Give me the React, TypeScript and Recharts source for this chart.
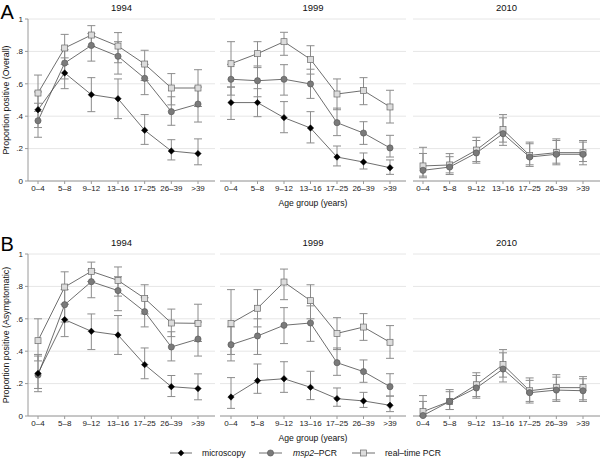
import React from 'react';
import { LineChart, Line, XAxis, YAxis, CartesianGrid, ErrorBar } from 'recharts';

const ageGroups = ['0–4', '5–8', '9–12', '13–16', '17–25', '26–39', '>39'];
const yTicks = [0, 0.2, 0.4, 0.6, 0.8, 1];

// ---- A (Overall) 1994
const a94Micro = [0.44, 0.667, 0.533, 0.508, 0.313, 0.185, 0.169];
const a94MicroLo = [0.33, 0.57, 0.428, 0.385, 0.226, 0.13, 0.1];
const a94MicroHi = [0.55, 0.76, 0.638, 0.63, 0.41, 0.255, 0.26];
const a94Msp2 = [0.372, 0.728, 0.837, 0.77, 0.634, 0.428, 0.475];
const a94Msp2Lo = [0.27, 0.63, 0.74, 0.66, 0.533, 0.344, 0.364];
const a94Msp2Hi = [0.48, 0.81, 0.91, 0.86, 0.72, 0.52, 0.58];
const a94Rt = [0.543, 0.821, 0.901, 0.833, 0.722, 0.574, 0.574];
const a94RtLo = [0.43, 0.72, 0.83, 0.73, 0.62, 0.47, 0.46];
const a94RtHi = [0.654, 0.905, 0.959, 0.916, 0.807, 0.663, 0.687];

// ---- A (Overall) 1999
const a99Micro = [0.484, 0.484, 0.391, 0.327, 0.148, 0.117, 0.082];
const a99MicroLo = [0.38, 0.397, 0.298, 0.235, 0.093, 0.074, 0.041];
const a99MicroHi = [0.58, 0.57, 0.49, 0.428, 0.216, 0.173, 0.13];
const a99Msp2 = [0.628, 0.619, 0.628, 0.599, 0.36, 0.296, 0.204];
const a99Msp2Lo = [0.53, 0.52, 0.53, 0.51, 0.28, 0.226, 0.148];
const a99Msp2Hi = [0.72, 0.71, 0.718, 0.69, 0.45, 0.366, 0.282];
const a99Rt = [0.724, 0.786, 0.86, 0.751, 0.537, 0.558, 0.457];
const a99RtLo = [0.58, 0.7, 0.776, 0.66, 0.44, 0.471, 0.358];
const a99RtHi = [0.86, 0.86, 0.918, 0.835, 0.63, 0.638, 0.56];

// ---- A (Overall) 2010
const a10Msp2 = [0.066, 0.086, 0.173, 0.292, 0.148, 0.165, 0.165];
const a10Msp2Lo = [0.02, 0.04, 0.11, 0.22, 0.09, 0.1, 0.1];
const a10Msp2Hi = [0.17, 0.15, 0.25, 0.39, 0.23, 0.25, 0.24];
const a10Rt = [0.093, 0.099, 0.191, 0.317, 0.158, 0.175, 0.175];
const a10RtLo = [0.03, 0.05, 0.12, 0.24, 0.1, 0.11, 0.12];
const a10RtHi = [0.208, 0.169, 0.27, 0.41, 0.24, 0.26, 0.25];

// ---- B (Asymptomatic) 1994
const b94Micro = [0.263, 0.595, 0.523, 0.5, 0.317, 0.181, 0.169];
const b94MicroLo = [0.17, 0.49, 0.41, 0.38, 0.23, 0.12, 0.1];
const b94MicroHi = [0.38, 0.69, 0.63, 0.62, 0.42, 0.25, 0.26];
const b94Msp2 = [0.253, 0.687, 0.829, 0.774, 0.644, 0.426, 0.475];
const b94Msp2Lo = [0.15, 0.58, 0.73, 0.65, 0.55, 0.34, 0.37];
const b94Msp2Hi = [0.37, 0.78, 0.9, 0.86, 0.73, 0.52, 0.58];
const b94Rt = [0.465, 0.796, 0.893, 0.837, 0.726, 0.574, 0.572];
const b94RtLo = [0.34, 0.69, 0.83, 0.74, 0.63, 0.49, 0.46];
const b94RtHi = [0.6, 0.89, 0.95, 0.92, 0.81, 0.66, 0.69];

// ---- B (Asymptomatic) 1999
const b99Micro = [0.117, 0.218, 0.23, 0.177, 0.107, 0.093, 0.066];
const b99MicroLo = [0.047, 0.14, 0.146, 0.101, 0.06, 0.053, 0.027];
const b99MicroHi = [0.237, 0.321, 0.335, 0.276, 0.173, 0.146, 0.123];
const b99Msp2 = [0.44, 0.494, 0.56, 0.574, 0.329, 0.274, 0.181];
const b99Msp2Lo = [0.34, 0.38, 0.447, 0.461, 0.251, 0.208, 0.123];
const b99Msp2Hi = [0.55, 0.6, 0.669, 0.68, 0.42, 0.346, 0.261];
const b99Rt = [0.572, 0.665, 0.827, 0.712, 0.51, 0.549, 0.455];
const b99RtLo = [0.38, 0.55, 0.718, 0.6, 0.41, 0.467, 0.356];
const b99RtHi = [0.78, 0.78, 0.907, 0.81, 0.607, 0.632, 0.558];

// ---- B (Asymptomatic) 2010
const b10Msp2 = [0.003, 0.09, 0.173, 0.29, 0.144, 0.16, 0.156];
const b10Msp2Lo = [0, 0.04, 0.11, 0.21, 0.08, 0.09, 0.09];
const b10Msp2Hi = [0.09, 0.15, 0.25, 0.39, 0.22, 0.24, 0.23];
const b10Rt = [0.027, 0.09, 0.193, 0.317, 0.156, 0.175, 0.175];
const b10RtLo = [0, 0.04, 0.12, 0.24, 0.09, 0.1, 0.1];
const b10RtHi = [0.126, 0.163, 0.267, 0.41, 0.235, 0.255, 0.243];

const FONT = '"Liberation Sans", Arial, Helvetica, sans-serif';

type S = [number[], number[], number[]] | null;

function buildRows(micro: S, msp2: S, rt: S) {
  return ageGroups.map((age, i) => {
    const r: any = { age };
    const add = (key: string, s: S) => {
      if (!s) return;
      const [v, lo, hi] = s;
      r[key] = v[i];
      r[key + 'Err'] = [v[i] - lo[i], hi[i] - v[i]];
    };
    add('micro', micro);
    add('msp2', msp2);
    add('rt', rt);
    return r;
  });
}

const rowsA94 = buildRows([a94Micro, a94MicroLo, a94MicroHi], [a94Msp2, a94Msp2Lo, a94Msp2Hi], [a94Rt, a94RtLo, a94RtHi]);
const rowsA99 = buildRows([a99Micro, a99MicroLo, a99MicroHi], [a99Msp2, a99Msp2Lo, a99Msp2Hi], [a99Rt, a99RtLo, a99RtHi]);
const rowsA10 = buildRows(null, [a10Msp2, a10Msp2Lo, a10Msp2Hi], [a10Rt, a10RtLo, a10RtHi]);
const rowsB94 = buildRows([b94Micro, b94MicroLo, b94MicroHi], [b94Msp2, b94Msp2Lo, b94Msp2Hi], [b94Rt, b94RtLo, b94RtHi]);
const rowsB99 = buildRows([b99Micro, b99MicroLo, b99MicroHi], [b99Msp2, b99Msp2Lo, b99Msp2Hi], [b99Rt, b99RtLo, b99RtHi]);
const rowsB10 = buildRows(null, [b10Msp2, b10Msp2Lo, b10Msp2Hi], [b10Rt, b10RtLo, b10RtHi]);

const LINE = '#4a4a4a';
const ERR = '#8c8c8c';

const diamondDot = (p: any) => {
  const { cx, cy, index } = p;
  if (cx == null || cy == null) return <g key={'d' + index} />;
  const h = 3.2;
  return <polygon key={'d' + index} points={`${cx},${cy - h} ${cx + h},${cy} ${cx},${cy + h} ${cx - h},${cy}`} fill="#000" stroke="#000" strokeWidth={0.5} />;
};
const circleDot = (p: any) => {
  const { cx, cy, index } = p;
  if (cx == null || cy == null) return <g key={'c' + index} />;
  return <circle key={'c' + index} cx={cx} cy={cy} r={3.1} fill="#7a7a7a" stroke="#555" strokeWidth={0.6} />;
};
const squareDot = (p: any) => {
  const { cx, cy, index } = p;
  if (cx == null || cy == null) return <g key={'s' + index} />;
  const s = 6;
  return <rect key={'s' + index} x={cx - s / 2} y={cy - s / 2} width={s} height={s} fill="#dcdcdc" stroke="#6a6a6a" strokeWidth={0.7} />;
};

const fmtY = (v: number) => (v === 0 ? '0' : v === 1 ? '1' : String(v).replace(/^0\./, '.'));

function Panel({ left, top, width, rows, showY, hasMicro, padL, padR }: any) {
  return (
    <div style={{ position: 'absolute', left, top }}>
      <LineChart width={width} height={200} data={rows} margin={{ top: 19, right: 0, bottom: 0, left: 0 }}>
        <CartesianGrid vertical={false} stroke="#e6e6e6" strokeWidth={1} />
        <XAxis
          dataKey="age"
          padding={{ left: padL, right: padR }}
          tickSize={3}
          tickMargin={1}
          height={19}
          interval={0}
          stroke="#9a9a9a"
          tick={{ fontSize: 8, fill: '#222', fontFamily: FONT }}
        />
        <YAxis
          domain={[0, 1]}
          ticks={yTicks}
          hide={!showY}
          width={showY ? 28 : 0}
          tickSize={3}
          tickMargin={2}
          stroke="#9a9a9a"
          tickFormatter={fmtY}
          tick={{ fontSize: 8, fill: '#222', fontFamily: FONT }}
        />
        <Line dataKey="rt" stroke={LINE} strokeWidth={0.8} dot={squareDot} activeDot={false} isAnimationActive={false}>
          <ErrorBar dataKey="rtErr" width={4} stroke={ERR} strokeWidth={1} direction="y" />
        </Line>
        <Line dataKey="msp2" stroke={LINE} strokeWidth={0.8} dot={circleDot} activeDot={false} isAnimationActive={false}>
          <ErrorBar dataKey="msp2Err" width={4} stroke={ERR} strokeWidth={1} direction="y" />
        </Line>
        {hasMicro ? (
          <Line dataKey="micro" stroke={LINE} strokeWidth={0.8} dot={diamondDot} activeDot={false} isAnimationActive={false}>
            <ErrorBar dataKey="microErr" width={4} stroke={ERR} strokeWidth={1} direction="y" />
          </Line>
        ) : null}
      </LineChart>
    </div>
  );
}

const panelCols = [
  { left: 0, width: 215, showY: true, padL: 10, padR: 17 },
  { left: 220, width: 186, showY: false, padL: 11, padR: 16 },
  { left: 413, width: 187, showY: false, padL: 10, padR: 17 },
];
const years = ['1994', '1999', '2010'];
const rowTops = [0, 235];
const rowLetters = ['A', 'B'];
const rowYLabels = ['Proportion positive (Overall)', 'Proportion positive (Asymptomatic)'];
const rowData = [
  [rowsA94, rowsA99, rowsA10],
  [rowsB94, rowsB99, rowsB10],
];
const legendNames = ['microscopy', 'msp2', 'real–time PCR'];

export default function App() {
  return (
    <div style={{ position: 'absolute', left: 0, top: 0, width: 600, height: 458, background: '#fff', fontFamily: FONT }}>
      {rowTops.map((top, r) =>
        panelCols.map((c, i) => (
          <Panel
            key={`${r}-${i}`}
            left={c.left}
            top={top}
            width={c.width}
            rows={rowData[r][i]}
            showY={c.showY}
            hasMicro={i < 2}
            padL={c.padL}
            padR={c.padR}
          />
        ))
      )}
      <svg width={600} height={458} style={{ position: 'absolute', left: 0, top: 0, pointerEvents: 'none' }} fontFamily={FONT}>
        {rowTops.map((top, r) => (
          <g key={r}>
            <text x={0.5} y={top + 19 - (r === 1 ? 3 : 0)} fontSize={20} fill="#000" fontWeight="normal">
              {rowLetters[r]}
            </text>
            {panelCols.map((c, i) => {
              const plotLeft = c.left + (c.showY ? 28 : 0);
              const cx = (plotLeft + c.left + c.width) / 2;
              return (
                <text key={i} x={cx} y={top + 10.5} fontSize={9.5} textAnchor="middle" fill="#111" fontWeight="normal">
                  {years[i]}
                </text>
              );
            })}
            <text transform={`translate(8.8, ${top + 100}) rotate(-90)`} fontSize={8.8} textAnchor="middle" fill="#111">
              {rowYLabels[r]}
            </text>
            <text x={313} y={top + 205.5} fontSize={8.6} textAnchor="middle" fill="#111">
              Age group (years)
            </text>
          </g>
        ))}
        <g>
          <line x1={170} y1={453} x2={192} y2={453} stroke={LINE} strokeWidth={0.8} />
          <polygon points="181,449.8 184.2,453 181,456.2 177.8,453" fill="#000" />
          <text x={202} y={456} fontSize={8.6} fill="#111">{legendNames[0]}</text>
          <line x1={259} y1={453} x2={282} y2={453} stroke={LINE} strokeWidth={0.8} />
          <circle cx={270.5} cy={453} r={3.1} fill="#7a7a7a" stroke="#555" strokeWidth={0.6} />
          <text x={293} y={456} fontSize={8.6} fill="#111">
            <tspan fontStyle="italic">{legendNames[1]}</tspan>
            <tspan>–PCR</tspan>
          </text>
          <line x1={352} y1={453} x2={375} y2={453} stroke={LINE} strokeWidth={0.8} />
          <rect x={360.5} y={450} width={6} height={6} fill="#dcdcdc" stroke="#6a6a6a" strokeWidth={0.7} />
          <text x={385} y={456} fontSize={8.6} fill="#111">{legendNames[2]}</text>
        </g>
      </svg>
    </div>
  );
}
